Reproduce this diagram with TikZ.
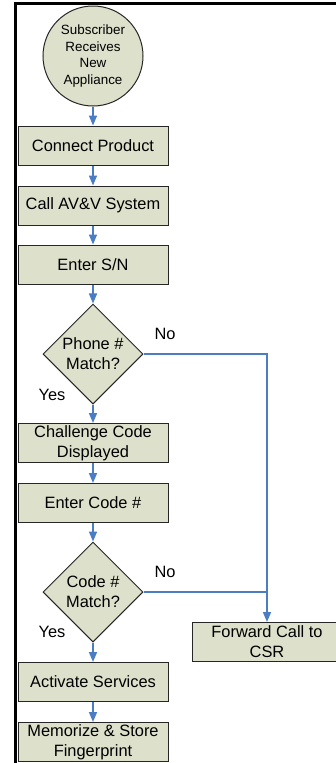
\documentclass[tikz,border=0pt]{standalone}
\usepackage{fontspec}
\setmainfont{Liberation Sans}
\usetikzlibrary{shapes.geometric,arrows.meta}
\definecolor{boxfill}{HTML}{DDE0CB}
\definecolor{flowblue}{HTML}{4A7DC4}
\tikzset{
  process/.style={
    rectangle,
    fill=boxfill,
    draw=black!85,
    line width=1pt,
    minimum width=150pt,
    minimum height=39pt,
    inner sep=0pt,
    align=center,
    font=\fontsize{16.4}{19.8}\selectfont,
  },
  decision/.style={
    diamond,
    aspect=1,
    fill=boxfill,
    draw=black!85,
    line width=1pt,
    minimum width=100pt,
    minimum height=100pt,
    inner sep=0pt,
    align=center,
    font=\fontsize{16.4}{19.8}\selectfont,
  },
  terminal/.style={
    circle,
    fill=boxfill,
    draw=black!85,
    line width=1pt,
    minimum size=100pt,
    inner sep=0pt,
    align=center,
    font=\fontsize{13.4}{16.4}\selectfont,
  },
  flow/.style={
    draw=flowblue,
    line width=1.6pt,
    -{Triangle[length=10pt,width=8pt]},
  },
  branch/.style={
    font=\fontsize{16.4}{19.8}\selectfont,
  }
}

\begin{document}
\begin{tikzpicture}[x=1pt, y=-1pt]
  \clip (0, 0) rectangle (336, 763);
  \fill[white] (0, 0) rectangle (336, 763);
  \draw[line width=2.2pt] (15.5, 763) -- (15.5, 3.5) -- (336, 3.5);

  \node[terminal] (receive) at (93, 56) {Subscriber\\Receives\\New\\Appliance};
  \node[process] (connect) at (93, 145.5) {Connect Product};
  \node[process] (call) at (93, 205.5) {Call AV\&V System};
  \node[process] (serial) at (93, 264.5) {Enter S/N};
  \node[decision] (phone) at (93, 354) {Phone \#\\Match?};
  \node[process] (challenge) at (93, 443) {Challenge Code\\Displayed};
  \node[process] (code) at (93, 503) {Enter Code \#};
  \node[decision] (match) at (93, 592) {Code \#\\Match?};
  \node[process] (activate) at (93, 682) {Activate Services};
  \node[process] (store) at (93, 742) {Memorize \& Store\\Fingerprint};
  \node[process] (csr) at (267, 642) {Forward Call to\\CSR};

  \draw[flow] (receive) -- (connect);
  \draw[flow] (connect) -- (call);
  \draw[flow] (call) -- (serial);
  \draw[flow] (serial) -- (phone);
  \draw[flow] (phone) -- (challenge);
  \draw[flow] (challenge) -- (code);
  \draw[flow] (code) -- (match);
  \draw[flow] (match) -- (activate);
  \draw[flow] (activate) -- (store);
  \draw[flow] (phone.east) -| (csr.north);
  \draw[draw=flowblue, line width=1.6pt] (match.east) -- (match.east -| csr.north);

  \node[branch] (phoneno) at (165, 334) {No};
  \node[branch] (phoneyes) at (52, 395) {Yes};
  \node[branch] (matchno) at (165, 572) {No};
  \node[branch] (matchyes) at (52, 632) {Yes};

\end{tikzpicture}
\end{document}
